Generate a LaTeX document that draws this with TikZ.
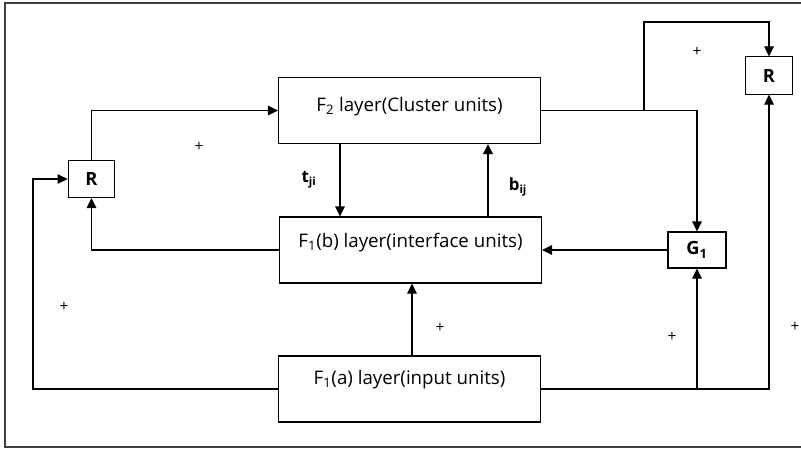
\documentclass[tikz,border=0pt]{standalone}
\usepackage{fontspec}
\setmainfont{Open Sans}
\usetikzlibrary{arrows.meta,positioning}

\begin{document}
\begin{tikzpicture}[x=0.025cm,y=-0.025cm,
  every node/.style={font=\fontsize{13.3}{15}\selectfont,align=center},
  layer/.style={rectangle,draw,line width=0.75pt,minimum width=6.55cm,
    minimum height=1.65cm},
  gate/.style={rectangle,draw,line width=0.75pt,minimum width=1.17cm,
    minimum height=0.93cm,font=\bfseries\fontsize{13}{15}\selectfont},
  weight/.style={font=\bfseries\fontsize{12}{14}\selectfont},
  plus/.style={font=\fontsize{11}{12}\selectfont},
  arrow/.style={-{Triangle[length=2.5mm,width=2.4mm]},line width=0.75pt}
]
\useasboundingbox (0,0) rectangle (801,448);
\draw[black!75,line width=0.75pt] (805,3) -- (5,3) -- (5,447) -- (805,447);

% layers
\node[layer,text depth=9pt] (f2) at (409.5,110.5) {F\textsubscript{2} layer(Cluster units)};
\node[layer,text depth=14pt] (fb) at (410.5,250) {F\textsubscript{1}(b) layer(interface units)};
\node[layer,text depth=17pt] (fa) at (409.5,389) {F\textsubscript{1}(a) layer(input units)};

% reset and gain
\node[gate] (rl) at (91.5,179) {R};
\node[gate] (rr) at (769,75.5) {R};
\node[gate,minimum width=1.45cm,minimum height=0.9cm] (g1) at (697,250) {G\textsubscript{1}};

% junctions
\coordinate (tdown) at (340,0);
\coordinate (bup) at (488,0);
\coordinate (split) at (644,110.5);
\coordinate (over) at (644,22);
\coordinate (loopl) at (33,389);
\coordinate (fin) at (412,0);
\coordinate (jin) at (697,389);

\draw[arrow] (rl.north) |- (f2.west);
\draw[arrow] (tdown |- f2.south) -- (tdown |- fb.north);
\draw[arrow] (bup |- fb.north) -- (bup |- f2.south);
\draw[arrow] (f2.east) -| (g1.north);
\draw[arrow] (split) -- (over) -| (rr.north);
\draw[arrow] (g1.west) -- (fb.east);
\draw[arrow] (fb.west) -| (rl.south);
\draw[arrow] (fa.west) -- (loopl) |- (rl.west);
\draw[arrow] (fa.east) -| (rr.south);
\draw[arrow] (jin) -- (g1.south);
\draw[arrow] (fin |- fa.north) -- (fin |- fb.south);

% weights
\node[weight] (tji) at (309,180) {t\textsubscript{ji}};
\node[weight] (bij) at (518,187) {b\textsubscript{ij}};

% signs
\node[plus] (p1) at (199,147) {+};
\node[plus] (p2) at (697,52) {+};
\node[plus] (p3) at (64,307) {+};
\node[plus] (p4) at (440,328) {+};
\node[plus] (p5) at (672,337) {+};
\node[plus] (p6) at (795,327) {+};
\end{tikzpicture}
\end{document}
